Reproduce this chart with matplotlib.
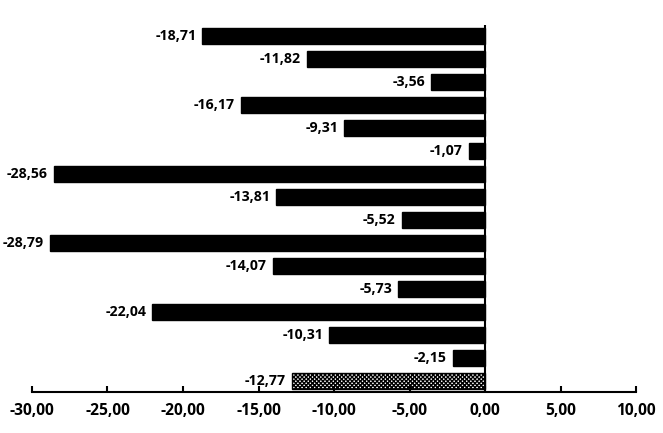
import matplotlib
matplotlib.use('Agg')
import matplotlib.pyplot as plt
import numpy as np

values = [-18.71, -11.82, -3.56, -16.17, -9.31, -1.07, -28.56, -13.81,
          -5.52, -28.79, -14.07, -5.73, -22.04, -10.31, -2.15, -12.77]
xticks = [-30, -25, -20, -15, -10, -5, 0, 5, 10]

plt.rcParams['font.family'] = ['Open Sans', 'DejaVu Sans']
plt.rcParams['hatch.linewidth'] = 1.0

fig = plt.figure(figsize=(6.63, 4.33), dpi=100)
ax = fig.add_axes([32 / 663, 1 - 392 / 433, (636 - 32) / 663, (392 - 25) / 433])

n = len(values)
ypos = np.arange(n)[::-1]
bars = ax.barh(ypos, values, height=0.7, color='black', edgecolor='black')
# last bar (total) is hatched
bars[-1].set_facecolor('white')
bars[-1].set_hatch('xxxxxxxx')
bars[-1].set_linewidth(1)

for y, v in zip(ypos, values):
    ax.text(v - 0.4, y, ('%.2f' % v).replace('.', ','), ha='right', va='center',
            fontsize=10.2, fontweight='bold')

ax.axvline(0, color='black', linewidth=1.5)
ax.set_xlim(-30, 10)
ax.set_ylim(-0.5, n - 0.5)
ax.set_xticks(xticks)
ax.set_xticklabels([('%.2f' % t).replace('.', ',') for t in xticks],
                   fontsize=11.2, fontweight='bold')
ax.set_yticks([])
for s in ['left', 'right', 'top']:
    ax.spines[s].set_visible(False)
ax.spines['bottom'].set_linewidth(1.5)
ax.tick_params(axis='x', direction='in', length=4, width=1.5, pad=8)

fig.savefig('out.png', dpi=100)
